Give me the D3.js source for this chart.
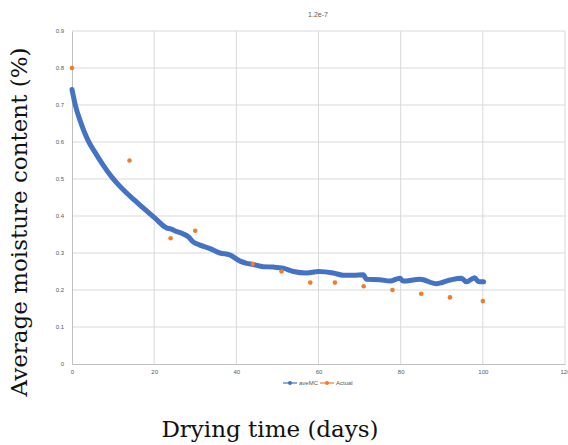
<!DOCTYPE html>
<html>
<head>
<meta charset="utf-8">
<script src="https://cdn.jsdelivr.net/npm/d3@7"></script>
<style>
  body { margin: 0; background: #fff; }
  .tick text { fill: #595959; font-family: "Liberation Sans", Arial, sans-serif; font-size: 6px; }
  .axisTitle { font-family: "DejaVu Serif", "Liberation Serif", serif; fill: #111; }
</style>
</head>
<body>
<div id="chart"></div>
<script>
// values
var aveDays = [0, 0.8, 2, 3, 4.1, 5.5, 7.5, 9.7, 11.5, 13.3, 15.5, 17.4, 20.2, 23, 24, 25.5, 27, 28.3, 29.5, 31, 33.6,
  36, 38.4, 40.9, 42.5, 44.1, 46.5, 49, 51.4, 53.9, 57.1, 60, 63.6, 66, 68.5, 70.9, 71.7, 74.9, 77.4, 79.8,
  80.6, 84.7, 88.7, 92, 94.8, 96, 98, 98.9, 100.2];
var aveMC = [0.742, 0.70, 0.657, 0.627, 0.60, 0.574, 0.539, 0.505, 0.482, 0.462, 0.440, 0.421, 0.394, 0.368, 0.365, 0.358,
  0.352, 0.344, 0.33, 0.322, 0.312, 0.30, 0.295, 0.278, 0.272, 0.269, 0.263, 0.262, 0.259, 0.25, 0.246, 0.25,
  0.246, 0.24, 0.24, 0.241, 0.229, 0.228, 0.224, 0.232, 0.224, 0.229, 0.217, 0.227, 0.232, 0.222, 0.233, 0.223, 0.222];
var actDays = [0, 14, 24, 30, 44, 51, 58, 64, 71, 78, 85, 92, 100];
var actMC = [0.80, 0.55, 0.34, 0.36, 0.27, 0.25, 0.22, 0.22, 0.21, 0.20, 0.19, 0.18, 0.17];
var xTicks = [0, 20, 40, 60, 80, 100, 120];
var yTicks = [0, 0.1, 0.2, 0.3, 0.4, 0.5, 0.6, 0.7, 0.8, 0.9];
var seriesNames = ["aveMC", "Actual"];
var seriesColors = ["#4472C4", "#ED7D31"];

var width = 568, height = 445;
// plot box (don't call it "top", window.top is taken)
var plotL = 72, plotR = 565, plotT = 31, plotB = 364;

var svg = d3.select("#chart").append("svg")
    .attr("width", width)
    .attr("height", height);

var xScale = d3.scaleLinear().domain([0, 120]).range([plotL, plotR]);
var yScale = d3.scaleLinear().domain([0, 0.9]).range([plotB, plotT]);

// gridlines
svg.append("g")
    .selectAll("line")
    .data(xTicks.slice(1))
    .enter().append("line")
    .attr("x1", function(d) { return xScale(d); })
    .attr("x2", function(d) { return xScale(d); })
    .attr("y1", plotT).attr("y2", plotB)
    .attr("stroke", "#d9d9d9").attr("stroke-width", 1);

svg.append("g")
    .selectAll("line")
    .data(yTicks.slice(1))
    .enter().append("line")
    .attr("x1", plotL).attr("x2", plotR)
    .attr("y1", function(d) { return yScale(d); })
    .attr("y2", function(d) { return yScale(d); })
    .attr("stroke", "#d9d9d9").attr("stroke-width", 1);

// axes
var xAxis = d3.axisBottom(xScale).tickValues(xTicks).tickSize(0).tickPadding(6)
    .tickFormat(d3.format("d"));
var yAxis = d3.axisLeft(yScale).tickValues(yTicks).tickSize(0).tickPadding(8)
    .tickFormat(function(d) { return d === 0 ? "0" : d3.format(".1f")(d); });

var gx = svg.append("g").attr("transform", "translate(0," + plotB + ")").call(xAxis);
gx.select(".domain").attr("stroke", "#bfbfbf");
var gy = svg.append("g").attr("transform", "translate(" + plotL + ",0)").call(yAxis);
gy.select(".domain").attr("stroke", "#bfbfbf");

// aveMC line (thick, dense markers in original)
var line = d3.line()
    .x(function(d, i) { return xScale(aveDays[i]); })
    .y(function(d) { return yScale(d); })
    .curve(d3.curveMonotoneX);

svg.append("path")
    .datum(aveMC)
    .attr("d", line)
    .attr("fill", "none")
    .attr("stroke", seriesColors[0])
    .attr("stroke-width", 5)
    .attr("stroke-linecap", "round")
    .attr("stroke-linejoin", "round");

// actual points
svg.append("g")
    .selectAll("circle")
    .data(actMC)
    .enter().append("circle")
    .attr("cx", function(d, i) { return xScale(actDays[i]); })
    .attr("cy", function(d) { return yScale(d); })
    .attr("r", 2.3)
    .attr("fill", seriesColors[1]);

// title
svg.append("text")
    .attr("x", 318).attr("y", 17)
    .attr("text-anchor", "middle")
    .attr("font-family", "Liberation Sans, Arial, sans-serif")
    .attr("font-size", 7)
    .attr("fill", "#595959")
    .text("1.2e-7");

// legend
var legend = svg.append("g").attr("transform", "translate(283,383)");
var lx = [0, 37];
seriesNames.forEach(function(name, i) {
  var g = legend.append("g").attr("transform", "translate(" + lx[i] + ",0)");
  g.append("line").attr("x1", 0).attr("x2", 14).attr("y1", 0).attr("y2", 0)
      .attr("stroke", seriesColors[i]).attr("stroke-width", 1.2);
  g.append("circle").attr("cx", 7).attr("cy", 0).attr("r", 2).attr("fill", seriesColors[i]);
  g.append("text").attr("x", 16).attr("y", 2)
      .attr("font-family", "Liberation Sans, Arial, sans-serif")
      .attr("font-size", 6).attr("fill", "#595959")
      .text(name);
});

// axis titles
svg.append("text")
    .attr("class", "axisTitle")
    .attr("transform", "translate(27,222)rotate(-90)")
    .attr("text-anchor", "middle")
    .attr("font-size", 23)
    .text("Average moisture content (%)");

svg.append("text")
    .attr("class", "axisTitle")
    .attr("x", 270).attr("y", 437)
    .attr("text-anchor", "middle")
    .attr("font-size", 23)
    .text("Drying time (days)");
</script>
</body>
</html>
